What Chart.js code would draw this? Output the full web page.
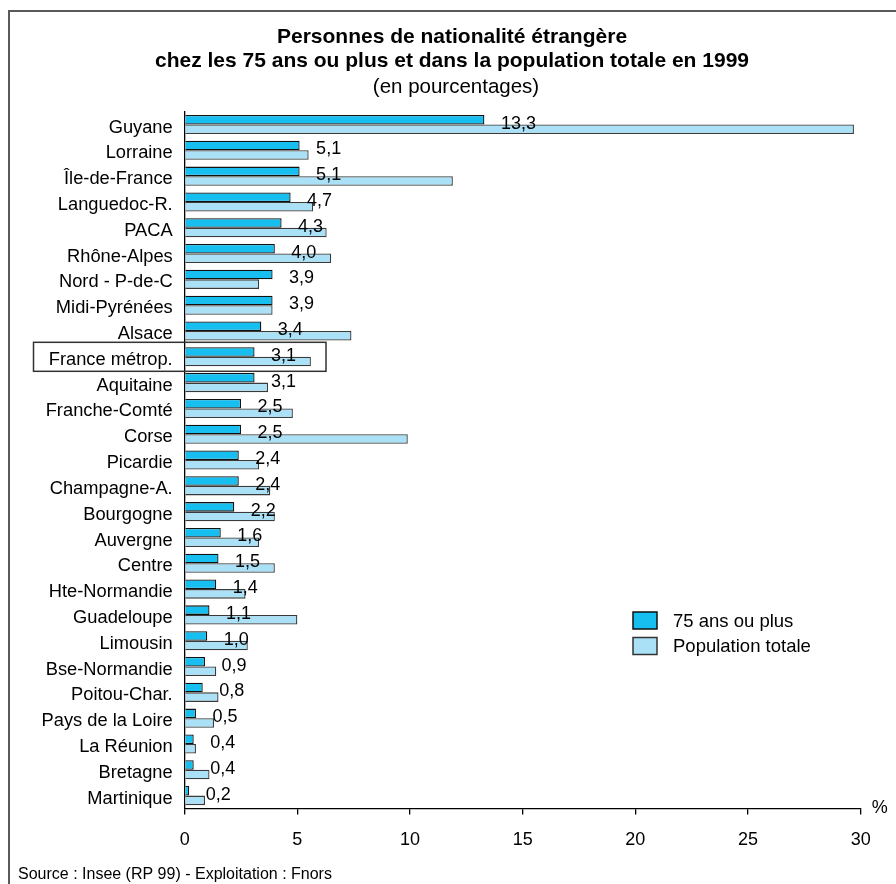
<!DOCTYPE html>
<html lang="fr">
<head>
<meta charset="utf-8">
<title>Personnes de nationalité étrangère</title>
<script src="https://cdn.jsdelivr.net/npm/chart.js@4/dist/chart.umd.min.js"></script>
<style>
  html, body { margin: 0; padding: 0; background: #fff; }
  #wrap { width: 896px; height: 884px; position: relative; }
</style>
</head>
<body>
<div id="wrap"><canvas id="c" width="896" height="884"></canvas></div>
<script>
// Régions, triées selon la part d'étrangers chez les 75 ans ou plus
const regions = [
  'Guyane', 'Lorraine', 'Île-de-France', 'Languedoc-R.', 'PACA', 'Rhône-Alpes',
  'Nord - P-de-C', 'Midi-Pyrénées', 'Alsace', 'France métrop.', 'Aquitaine',
  'Franche-Comté', 'Corse', 'Picardie', 'Champagne-A.', 'Bourgogne', 'Auvergne',
  'Centre', 'Hte-Normandie', 'Guadeloupe', 'Limousin', 'Bse-Normandie',
  'Poitou-Char.', 'Pays de la Loire', 'La Réunion', 'Bretagne', 'Martinique'
];
// Part d'étrangers (%) chez les 75 ans ou plus
const seniors = [
  13.3, 5.1, 5.1, 4.7, 4.3, 4.0, 3.9, 3.9, 3.4, 3.1, 3.1, 2.5, 2.5, 2.4,
  2.4, 2.2, 1.6, 1.5, 1.4, 1.1, 1.0, 0.9, 0.8, 0.5, 0.4, 0.4, 0.2
];
// Part d'étrangers (%) dans la population totale
const totalPop = [
  29.7, 5.5, 11.9, 5.7, 6.3, 6.5, 3.3, 3.9, 7.4, 5.6, 3.7, 4.8, 9.9, 3.3,
  3.8, 4.0, 3.3, 4.0, 2.7, 5.0, 2.8, 1.4, 1.5, 1.3, 0.5, 1.1, 0.9
];
const xTicks = [0, 5, 10, 15, 20, 25, 30];
const seriesNames = ['75 ans ou plus', 'Population totale'];
const titleLines = [
  'Personnes de nationalité étrangère',
  'chez les 75 ans ou plus et dans la population totale en 1999'
];
const subtitle = '(en pourcentages)';
const sourceText = 'Source : Insee (RP 99) - Exploitation : Fnors';
const highlighted = 'France métrop.';

const FONT = '"Liberation Sans", Arial, Helvetica, sans-serif';
const DARK = '#17bff0';
const LIGHT = '#aae1f7';

// Cadre, titres, étiquettes de valeurs, encadré et légende
const decorations = {
  id: 'decorations',
  beforeDraw(chart) {
    const ctx = chart.ctx;
    ctx.save();
    ctx.fillStyle = '#fff';
    ctx.fillRect(0, 0, chart.width, chart.height);
    ctx.strokeStyle = '#5a5a5a';
    ctx.lineWidth = 2;
    ctx.strokeRect(9, 11, 1000, 1000);
    ctx.restore();
  },
  afterDraw(chart) {
    const ctx = chart.ctx;
    const xs = chart.scales.x, ys = chart.scales.y;
    const area = chart.chartArea;
    ctx.save();
    ctx.fillStyle = '#000';
    ctx.textAlign = 'center';
    ctx.textBaseline = 'alphabetic';
    ctx.font = 'bold 21px ' + FONT;
    ctx.fillText(titleLines[0], 452, 43);
    ctx.fillText(titleLines[1], 452, 67);
    ctx.font = '20.5px ' + FONT;
    ctx.fillText(subtitle, 456, 93);

    // valeurs des 75 ans ou plus
    ctx.textAlign = 'left';
    ctx.font = '18px ' + FONT;
    seniors.forEach((v, i) => {
      const yc = ys.getPixelForValue(i);
      const x = xs.getPixelForValue(v) + 16.5;
      ctx.fillText(v.toFixed(1).replace('.', ','), x, yc + 4);
    });

    // encadré autour de la France métropolitaine
    const hi = regions.indexOf(highlighted);
    const yh = ys.getPixelForValue(hi);
    ctx.strokeStyle = '#333';
    ctx.lineWidth = 1.5;
    ctx.strokeRect(33.5, yh - 14.5, 292.5, 29);

    // unité de l'axe
    ctx.textAlign = 'center';
    ctx.fillText('%', area.right + 19, area.bottom + 4);

    // légende
    const lx = 633, ly = 612;
    ctx.font = '18.5px ' + FONT;
    [DARK, LIGHT].forEach((col, k) => {
      const y = ly + k * 25.5;
      ctx.fillStyle = col;
      ctx.fillRect(lx, y, 24, 17);
      ctx.strokeStyle = k === 0 ? '#111' : '#333';
      ctx.lineWidth = 1.5;
      ctx.strokeRect(lx, y, 24, 17);
      ctx.fillStyle = '#000';
      ctx.textAlign = 'left';
      ctx.fillText(seriesNames[k], 673, y + 14.5);
    });

    // source
    ctx.font = '16px ' + FONT;
    ctx.fillText(sourceText, 18, 878.5);
    ctx.restore();
  }
};

new Chart(document.getElementById('c'), {
  type: 'bar',
  data: {
    labels: regions,
    datasets: [
      {
        label: seriesNames[0],
        data: seniors,
        backgroundColor: DARK,
        borderColor: '#111',
        borderWidth: 1.3,
        borderSkipped: 'start'
      },
      {
        label: seriesNames[1],
        data: totalPop,
        backgroundColor: LIGHT,
        borderColor: '#3a3a3a',
        borderWidth: 1.3,
        borderSkipped: 'start'
      }
    ]
  },
  options: {
    indexAxis: 'y',
    responsive: false,
    animation: false,
    devicePixelRatio: 1,
    datasets: { bar: { categoryPercentage: 0.74, barPercentage: 1.0 } },
    layout: { padding: { top: 111.6, right: 35.3, bottom: 0, left: 0 } },
    plugins: {
      legend: { display: false },
      title: { display: false },
      tooltip: { enabled: false }
    },
    scales: {
      x: {
        type: 'linear',
        min: 0,
        max: 30,
        afterBuildTicks(scale) { scale.ticks = xTicks.map(v => ({ value: v })); },
        afterFit(scale) { scale.height = 75.5; },
        ticks: {
          font: { family: FONT, size: 18 },
          color: '#000',
          padding: 15,
          maxRotation: 0
        },
        grid: { drawOnChartArea: false, drawTicks: true, tickLength: 6, color: '#000', lineWidth: 1.3 },
        border: { display: true, color: '#000', width: 1.3 }
      },
      y: {
        type: 'category',
        afterFit(scale) { scale.width = 184.7; },
        ticks: {
          font: { family: FONT, size: 18.3 },
          color: '#000',
          padding: 12,
          labelOffset: 3,
          autoSkip: false
        },
        grid: { drawOnChartArea: false, drawTicks: false },
        border: { display: true, color: '#000', width: 1.3 }
      }
    }
  },
  plugins: [decorations]
});
</script>
</body>
</html>
